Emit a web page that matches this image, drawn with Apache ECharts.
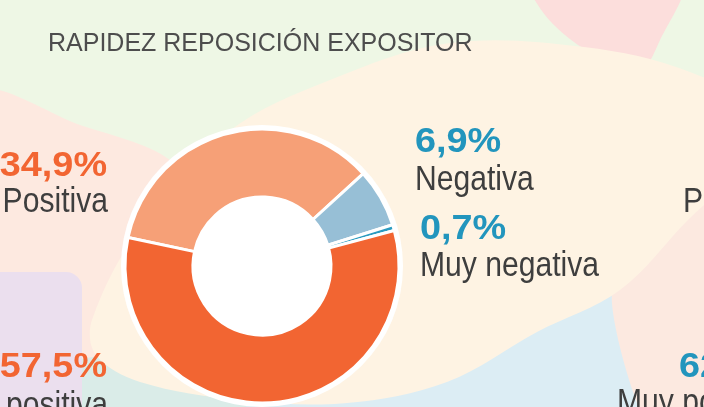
<!DOCTYPE html>
<html>
<head>
<meta charset="utf-8">
<script src="https://cdn.jsdelivr.net/npm/echarts@6/dist/echarts.min.js"></script>
<style>
  html, body { margin: 0; padding: 0; }
  #chart { width: 704px; height: 407px; }
</style>
</head>
<body>
<div id="chart"></div>
<script>
// datos del gráfico
const title = 'RAPIDEZ REPOSICIÓN EXPOSITOR'
const categories = ['Positiva', 'Negativa', 'Muy negativa', 'Muy positiva']
const values = [34.9, 6.9, 0.7, 57.5]
const sliceColors = ['#F6A077', '#97BFD6', '#2A9BC0', '#F26532']
// rótulos del gráfico vecino (cortados en el borde)
const nextLabels = ['Positiva', 'Muy positiva']
const nextValues = ['62']

const ORANGE = '#F26532'
const BLUE = '#2295BD'
const GREY = '#3E3E3E'
const fmt = v => v.toFixed(1).replace('.', ',') + '%'

const chart = echarts.init(document.getElementById('chart'))

function blob(points, fill, smooth) {
  return { type: 'polygon', z: 0, silent: true, shape: { points: points, smooth: smooth }, style: { fill: fill } }
}

const background = [
  { type: 'rect', z: 0, silent: true, shape: { x: 0, y: 0, width: 704, height: 407 }, style: { fill: '#EEF7E5' } },
  // rosa arriba derecha
  blob([[530, -20], [545, 15], [583, 48], [640, 70], [660, 40], [682, -20]], '#FCDEDC', 0.3),
  // melocotón izquierda
  blob([[-20, 95], [80, 125], [170, 160], [230, 240], [200, 430], [-20, 430]], '#FDE9E0', 0.3),
  // verde agua abajo izquierda
  blob([[60, 368], [150, 355], [260, 375], [300, 430], [60, 430]], '#DAECE8', 0.3),
  // azul claro abajo derecha
  blob([[250, 398], [450, 372], [618, 288], [655, 430], [250, 430]], '#DCEDF4', 0.2),
  // melocotón derecha
  blob([[612, 292], [680, 205], [720, 170], [720, 430], [650, 430]], '#FCE9E0', 0.2),
  // lila
  { type: 'rect', z: 0, silent: true, shape: { x: -20, y: 272, width: 102, height: 160, r: 16 }, style: { fill: '#EBDFEE' } },
  // crema central
  blob([[92, 320], [140, 228], [228, 132], [330, 80], [450, 43], [584, 47], [690, 72], [770, 120],
        [740, 170], [688, 220], [620, 290], [537, 332], [447, 382], [347, 403], [240, 400],
        [140, 382], [96, 355]], '#FEF3E3', 0.35),
  // aro blanco del donut
  { type: 'circle', z: 1, silent: true, shape: { cx: 262, cy: 266, r: 141 }, style: { fill: '#FFFFFF' } }
]

function label(text, x, y, opts) {
  return {
    type: 'text', z: 10, x: x, y: y, scaleX: opts.scaleX || 1,
    style: {
      text: text, fill: opts.color,
      font: (opts.bold ? 'bold ' : '') + opts.size + 'px "Liberation Sans", Arial, sans-serif',
      align: opts.align || 'left', verticalAlign: 'middle'
    }
  }
}

const pct = { bold: true, size: 35, scaleX: 1.08 }
const txt = { size: 35, scaleX: 0.86, color: GREY }

const texts = [
  label(title, 48, 44, { size: 25, color: '#4D4D4D' }),
  // izquierda: positivos
  label(fmt(values[0]), 107, 166, Object.assign({ color: ORANGE, align: 'right' }, pct)),
  label(categories[0], 108, 202, Object.assign({ align: 'right' }, txt)),
  label(fmt(values[3]), 107, 367, Object.assign({ color: ORANGE, align: 'right' }, pct)),
  label(categories[3], 108, 406, Object.assign({ align: 'right' }, txt)),
  // derecha: negativos
  label(fmt(values[1]), 415, 142, Object.assign({ color: BLUE }, pct)),
  label(categories[1], 415, 180, txt),
  label(fmt(values[2]), 420, 229, Object.assign({ color: BLUE }, pct)),
  label(categories[2], 420, 266, txt),
  // gráfico siguiente
  label(nextLabels[0], 683, 202, txt),
  label(nextValues[0], 679, 367, Object.assign({ color: BLUE }, pct)),
  label(nextLabels[1], 617, 403, txt)
]

const option = {
  animation: false,
  backgroundColor: '#EEF7E5',
  graphic: { elements: background.concat(texts) },
  series: [
    {
      type: 'pie',
      z: 5,
      center: [262, 266],
      radius: [69, 137],
      startAngle: 168,
      clockwise: true,
      silent: true,
      label: { show: false },
      labelLine: { show: false },
      itemStyle: { borderColor: '#FFFFFF', borderWidth: 3 },
      data: categories.map((c, i) => ({
        name: c,
        value: values[i],
        itemStyle: { color: sliceColors[i] }
      }))
    }
  ]
}

chart.setOption(option)
</script>
</body>
</html>
